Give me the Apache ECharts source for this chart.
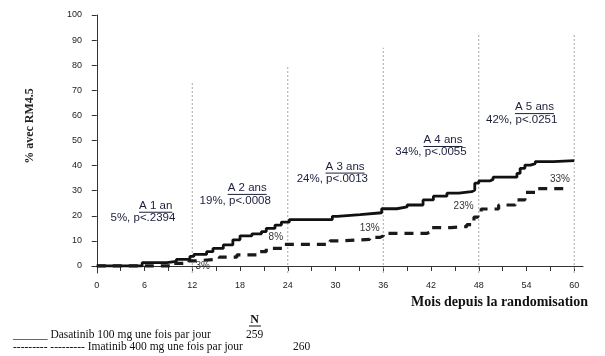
<!DOCTYPE html>
<html><head><meta charset="utf-8">
<script src="https://cdn.jsdelivr.net/npm/echarts@6/dist/echarts.min.js"></script>
<style>html,body{margin:0;padding:0;background:#fff}#c{width:605px;height:356px}</style>
</head><body><div id="c"></div>
<script>
// ---- data ----
const dasatinibMonths = [0, 5.7, 8.8, 10, 11.7, 12.2, 13.8, 14.6, 15.9, 17.1, 18, 19.5, 20.7, 21.3, 22.4, 23.2, 24.2, 29.6, 30.2, 33.1, 35.8, 37.7, 39, 41, 42.3, 44, 45.5, 47.1, 47.5, 48, 49.4, 49.8, 52.8, 53.2, 53.8, 54.5, 55.1, 57.4, 60];
const dasatinibPct    = [0, 1.3, 1.8, 2.6, 3.8, 4.6, 5.7, 7, 8.4, 10.4, 12, 12.8, 13.7, 15, 16.3, 17.5, 18.5, 19.8, 20.5, 21.2, 22.8, 23.5, 24.3, 26.3, 27.8, 29, 29.6, 30.3, 33, 33.9, 34.5, 35.4, 36.9, 38.9, 40.2, 40.8, 41.6, 42, 42];
const imatinibMonths  = [0, 9.2, 11.6, 12.2, 15.4, 17.6, 20.1, 21.3, 23.5, 29.3, 30.5, 34.3, 35.6, 36, 41.5, 42.1, 44.5, 46.5, 47.4, 47.9, 48.3, 50.5, 52.6, 53.8, 55.3, 59.5];
const imatinibPct     = [0, 1, 2, 2.7, 3.5, 4.4, 5.7, 7, 8.6, 10, 10.6, 11.4, 12, 13, 13.7, 15.3, 15.7, 16.5, 19.5, 21.5, 22.7, 24.3, 26.3, 29.3, 30.8, 31];
const yearLabels      = ['A 1 an', 'A 2 ans', 'A 3 ans', 'A 4 ans', 'A 5 ans'];
const yearStats       = ['5%, p<.2394', '19%, p<.0008', '24%, p<.0013', '34%, p<.0055', '42%, p<.0251'];
const imatinibYearPct = [3, 8, 13, 23, 33];
const yearMonths      = [12, 24, 36, 48, 60];
const yTicks          = [0, 10, 20, 30, 40, 50, 60, 70, 80, 90, 100];
const xTickLabels     = [0, 6, 12, 18, 24, 30, 36, 42, 48, 54, 60];
const xMinorTicks     = [0, 3, 6, 9, 12, 15, 18, 21, 24, 27, 30, 33, 36, 39, 42, 45, 48, 51, 54, 57, 60];
const legendNames     = ['Dasatinib 100 mg une fois par jour', 'Imatinib 400 mg une fois par jour'];
const legendN         = [259, 260];

// ---- layout (data-coordinate anchors for annotations) ----
const Y_MIN = -2.8, Y_MAX = 100, X_MIN = -0.6, X_MAX = 61.1;
const gridTops  = [73, 80, 87, 92, 92];
const titleAnchors = [[7.4, 24.0], [18.9, 31.1], [31.2, 39.6], [43.5, 50.2], [55.0, 63.3]];
const statAnchors  = [[5.8, 19.0], [17.4, 26.0], [29.6, 34.7], [42.0, 45.5], [53.4, 58.2]];
const pctAnchors   = [[13.3, -0.3], [22.5, 11.3], [34.3, 15.0], [46.1, 23.6], [58.2, 34.7]];

const TXT = '#1b1f3b';
const ANN_FONT = '11.5px "Liberation Sans", Arial, sans-serif';
const mctx = document.createElement('canvas').getContext('2d');
function textW(t, f) { mctx.font = f; return mctx.measureText(t).width; }

const chart = echarts.init(document.getElementById('c'), null, {renderer: 'canvas'});
const option = {
  animation: false,
  grid: {left: 92, right: 22, top: 15, bottom: 83, containLabel: false},
  xAxis: {
    type: 'value', min: X_MIN, max: X_MAX,
    axisLine: {show: true, lineStyle: {color: '#333', width: 1}},
    axisTick: {show: true, length: 5, lineStyle: {color: '#333'}, customValues: xMinorTicks},
    axisLabel: {customValues: xTickLabels, margin: 8, fontSize: 9, color: '#222', fontFamily: '"Liberation Sans", Arial, sans-serif'},
    splitLine: {show: false}
  },
  yAxis: {
    type: 'value', min: Y_MIN, max: Y_MAX,
    axisLine: {show: true, lineStyle: {color: '#333', width: 1}},
    axisTick: {show: true, length: 5, lineStyle: {color: '#333'}, customValues: yTicks},
    axisLabel: {customValues: yTicks, margin: 10, fontSize: 9, color: '#222', fontFamily: '"Liberation Sans", Arial, sans-serif'},
    splitLine: {show: false}
  },
  series: [
    {
      type: 'custom', z: 1, silent: true,
      data: yearMonths.map((m, i) => [m, gridTops[i]]),
      renderItem: function (params, api) {
        const a = api.coord([api.value(0), Y_MIN]);
        const b = api.coord([api.value(0), api.value(1)]);
        return {type: 'line', shape: {x1: a[0], y1: a[1], x2: b[0], y2: b[1]},
          style: {stroke: '#a8a8a8', lineWidth: 1, lineDash: [2, 2]}};
      }
    },
    {
      name: legendNames[0], type: 'line', step: 'end', z: 3, showSymbol: false,
      data: dasatinibMonths.map((m, i) => [m, dasatinibPct[i]]),
      lineStyle: {color: '#111', width: 2.8}
    },
    {
      name: legendNames[1], type: 'line', step: 'end', z: 3, showSymbol: false,
      data: imatinibMonths.map((m, i) => [m, imatinibPct[i]]),
      lineStyle: {color: '#1a1a1a', width: 3.2, type: [9, 7]}
    },
    {
      type: 'custom', z: 4, silent: true,
      data: yearLabels.map((t, i) => [titleAnchors[i][0], titleAnchors[i][1], statAnchors[i][0], statAnchors[i][1], i]),
      renderItem: function (params, api) {
        const i = api.value(4);
        const p = api.coord([api.value(0), api.value(1)]);
        const q = api.coord([api.value(2), api.value(3)]);
        const w = textW(yearLabels[i], ANN_FONT);
        return {type: 'group', children: [
          {type: 'text', x: p[0], y: p[1], style: {text: yearLabels[i], font: ANN_FONT, fill: TXT, align: 'center', verticalAlign: 'middle'}},
          {type: 'line', shape: {x1: p[0] - w / 2, y1: p[1] + 6.5, x2: p[0] + w / 2, y2: p[1] + 6.5}, style: {stroke: TXT, lineWidth: 1}},
          {type: 'text', x: q[0], y: q[1], style: {text: yearStats[i], font: ANN_FONT, fill: TXT, align: 'center', verticalAlign: 'middle'}}
        ]};
      }
    },
    {
      type: 'custom', z: 4, silent: true,
      data: imatinibYearPct.map((v, i) => [pctAnchors[i][0], pctAnchors[i][1], v]),
      renderItem: function (params, api) {
        const p = api.coord([api.value(0), api.value(1)]);
        return {type: 'text', x: p[0], y: p[1], style: {text: api.value(2) + '%', font: '10px "Liberation Sans Narrow", "Liberation Sans", sans-serif', fill: '#333', align: 'center', verticalAlign: 'middle'}};
      }
    }
  ],
  graphic: [
    {type: 'text', x: 30, y: 126, rotation: Math.PI / 2, style: {text: '% avec RM4.5', font: 'bold 12px "Liberation Serif", "Times New Roman", serif', fill: '#222', align: 'center', verticalAlign: 'middle'}},
    {type: 'text', x: 588, y: 302, style: {text: 'Mois depuis la randomisation', font: 'bold 14px "Liberation Serif", "Times New Roman", serif', fill: '#111', align: 'right', verticalAlign: 'middle'}},
    {type: 'text', x: 254.5, y: 320, style: {text: 'N', font: 'bold 12px "Liberation Serif", serif', fill: '#111', align: 'center', verticalAlign: 'middle'}},
    {type: 'line', shape: {x1: 249, y1: 326, x2: 261, y2: 326}, style: {stroke: '#111', lineWidth: 1}},
    {type: 'text', x: 13, y: 335, style: {text: '______ ' + legendNames[0], font: '11.5px "Liberation Serif", serif', fill: '#111', align: 'left', verticalAlign: 'middle'}},
    {type: 'text', x: 246, y: 335, style: {text: String(legendN[0]), font: '11.5px "Liberation Serif", serif', fill: '#111', align: 'left', verticalAlign: 'middle'}},
    {type: 'text', x: 13, y: 347, style: {text: '--------- --------- ' + legendNames[1], font: '11.5px "Liberation Serif", serif', fill: '#111', align: 'left', verticalAlign: 'middle'}},
    {type: 'text', x: 293, y: 347, style: {text: String(legendN[1]), font: '11.5px "Liberation Serif", serif', fill: '#111', align: 'left', verticalAlign: 'middle'}}
  ]
};
chart.setOption(option);
</script>
</body></html>
